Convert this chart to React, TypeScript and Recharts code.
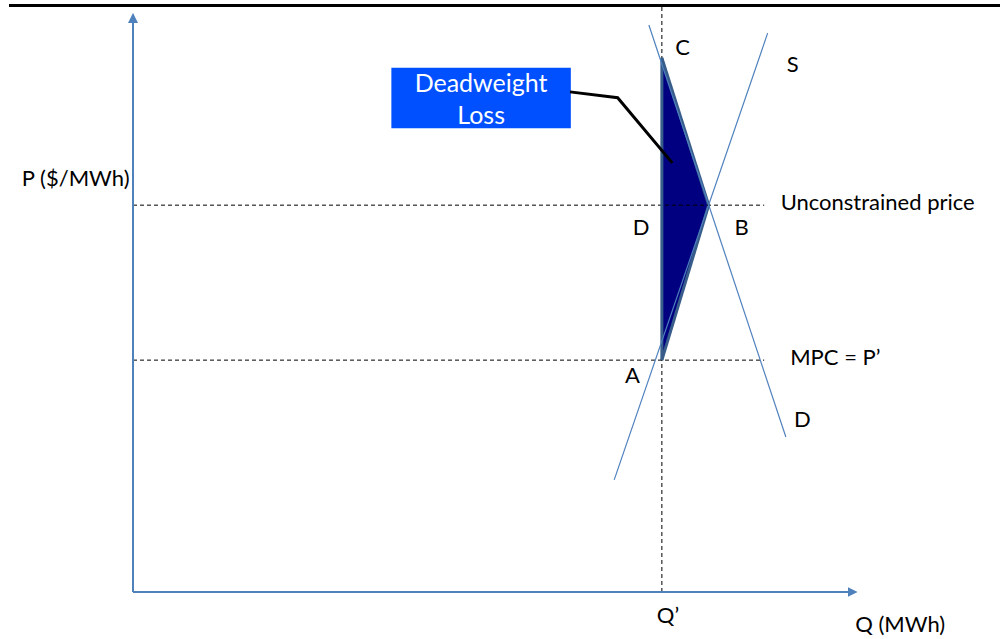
import {
  ComposedChart, Line, Area, XAxis, YAxis, ReferenceLine, ReferenceArea, ReferenceDot,
} from 'recharts'

// data units: Q (MWh) and P ($/MWh), both on 0–100 scales
const supplyCurve = [
  { q: 55.5, p: 19.1 },
  { q: 73.2, p: 95.2 },
]

const demandCurve = [
  { q: 59.5, p: 96.6 },
  { q: 75.3, p: 26.4 },
]

// deadweight loss triangle C-B-A as a range area
const deadweightLoss = [
  { q: 61.0, p: [39.5, 91.0] },
  { q: 66.4, p: [65.9, 65.9] },
]

const leaderLine = [
  { q: 50.4, p: 85.2 },
  { q: 55.9, p: 84.2 },
  { q: 62.2, p: 73.1 },
]

const qPrime = 61.0
const unconstrainedPrice = 65.9
const mpcPrice = 39.5
const dashEnd = 72.8
const xAxisEnd = 83.0
const yAxisEnd = 97.8

const pointLabels = [
  { q: 63.4, p: 93.0, text: 'C', anchor: 'middle' },
  { q: 76.1, p: 90.1, text: 'S', anchor: 'middle' },
  { q: 58.6, p: 62.2, text: 'D', anchor: 'middle' },
  { q: 70.2, p: 62.2, text: 'B', anchor: 'middle' },
  { q: 57.6, p: 37.0, text: 'A', anchor: 'middle' },
  { q: 77.2, p: 29.6, text: 'D', anchor: 'middle' },
  { q: 74.7, p: 66.6, text: 'Unconstrained price', anchor: 'start' },
  { q: 75.8, p: 40.2, text: 'MPC = P’', anchor: 'start' },
  { q: -0.4, p: 70.6, text: 'P ($/MWh)', anchor: 'end' },
  { q: 61.7, p: -3.9, text: 'Q’', anchor: 'middle' },
  { q: 83.3, p: -5.3, text: 'Q (MWh)', anchor: 'start' },
]

const FONT = 'Lato, "Noto Sans", sans-serif'
const AXIS_BLUE = '#4f81bd'

function TextLabel({ viewBox, text, anchor }: any) {
  return (
    <text
      x={viewBox.x}
      y={viewBox.y}
      textAnchor={anchor}
      dominantBaseline="central"
      fontFamily={FONT}
      fontSize={22}
      fill="#000"
    >
      {text}
    </text>
  )
}

function BoxLabel({ viewBox }: any) {
  const cx = viewBox.x + viewBox.width / 2
  return (
    <text textAnchor="middle" fontFamily={FONT} fontSize={25} fill="#fff">
      <tspan x={cx} y={viewBox.y + 14} dominantBaseline="central">Deadweight</tspan>
      <tspan x={cx} y={viewBox.y + 46} dominantBaseline="central">Loss</tspan>
    </text>
  )
}

export default function App() {
  return (
    <div style={{ position: 'absolute', left: 0, top: 0, width: 1000, height: 639, background: '#fff' }}>
      <div style={{ position: 'absolute', left: 9, top: 4, width: 991, height: 3, background: '#000' }} />
      <ComposedChart
        width={1000}
        height={639}
        margin={{ top: 5, right: 0, bottom: 47, left: 133 }}
        style={{ position: 'absolute', left: 0, top: 0 }}
      >
        <defs>
          <marker id="arrowHead" viewBox="0 0 10 10" refX="5" refY="5" markerWidth="5" markerHeight="5" orient="auto">
            <path d="M0,0 L10,5 L0,10 z" fill={AXIS_BLUE} />
          </marker>
        </defs>
        <XAxis type="number" dataKey="q" domain={[0, 100]} hide allowDataOverflow />
        <YAxis type="number" domain={[0, 100]} hide allowDataOverflow />

        <ReferenceLine
          segment={[{ x: qPrime, y: 0 }, { x: qPrime, y: 100 }]}
          stroke="#000" strokeDasharray="4 3" strokeWidth={1} ifOverflow="visible"
        />
        <ReferenceLine
          segment={[{ x: 0, y: unconstrainedPrice }, { x: dashEnd, y: unconstrainedPrice }]}
          stroke="#000" strokeDasharray="4 3" strokeWidth={1}
        />
        <ReferenceLine
          segment={[{ x: 0, y: mpcPrice }, { x: dashEnd, y: mpcPrice }]}
          stroke="#000" strokeDasharray="4 3" strokeWidth={1}
        />

        <Area
          data={deadweightLoss}
          dataKey="p"
          type="linear"
          fill="#000080"
          fillOpacity={1}
          stroke="#385d8a"
          strokeWidth={3}
          isAnimationActive={false}
          dot={false}
          activeDot={false}
        />
        <ReferenceLine
          segment={[{ x: deadweightLoss[0].q, y: deadweightLoss[0].p[0] }, { x: deadweightLoss[0].q, y: deadweightLoss[0].p[1] }]}
          stroke="#385d8a" strokeWidth={3}
        />

        <Line data={supplyCurve} dataKey="p" type="linear" stroke={AXIS_BLUE} strokeWidth={1.2} dot={false} activeDot={false} isAnimationActive={false} />
        <Line data={demandCurve} dataKey="p" type="linear" stroke={AXIS_BLUE} strokeWidth={1.2} dot={false} activeDot={false} isAnimationActive={false} />

        <Line data={leaderLine} dataKey="p" type="linear" stroke="#000" strokeWidth={3} dot={false} activeDot={false} isAnimationActive={false} />

        <ReferenceLine
          segment={[{ x: 0, y: 0 }, { x: xAxisEnd, y: 0 }]}
          stroke={AXIS_BLUE} strokeWidth={2} markerEnd="url(#arrowHead)" ifOverflow="visible"
        />
        <ReferenceLine
          segment={[{ x: 0, y: 0 }, { x: 0, y: yAxisEnd }]}
          stroke={AXIS_BLUE} strokeWidth={2} markerEnd="url(#arrowHead)" ifOverflow="visible"
        />

        <ReferenceArea
          x1={29.8} x2={50.5} y1={79.0} y2={89.3}
          fill="#0050ff" fillOpacity={1} stroke="none"
          label={<BoxLabel />}
        />

        {pointLabels.map((l, i) => (
          <ReferenceDot
            key={i}
            x={l.q}
            y={l.p}
            r={0}
            stroke="none"
            fill="none"
            ifOverflow="visible"
            label={<TextLabel text={l.text} anchor={l.anchor} />}
          />
        ))}
      </ComposedChart>
    </div>
  )
}
